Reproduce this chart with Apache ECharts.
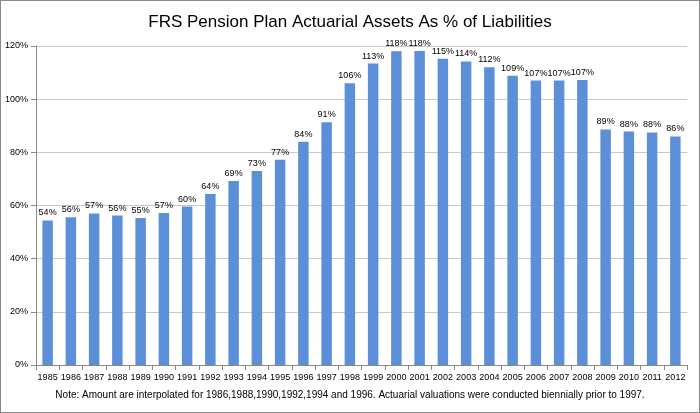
<!DOCTYPE html>
<html>
  <head>
    <meta charset="utf-8">
    <title>FRS Pension</title>
    <style>
        *{ padding: 0; margin: 0; }
        body{ width: 700px; height: 413px; background: #fff; }
        #chart{ width: 698px; height: 411px; border: 1px solid #888; }
    </style>
  </head>
  <body>
    <div id="chart"></div>
    <script src="https://cdn.jsdelivr.net/npm/echarts@6/dist/echarts.min.js"></script>
    <script>
        // data
        var years = ['1985','1986','1987','1988','1989','1990','1991','1992','1993','1994','1995','1996','1997','1998',
                     '1999','2000','2001','2002','2003','2004','2005','2006','2007','2008','2009','2010','2011','2012'];
        var ratio = [54.4, 55.6, 57, 56.2, 55.3, 57.2, 59.6, 64.3, 69.2, 73, 77.2, 84, 91.3, 106,
                     113.4, 118, 118.1, 115.2, 114.2, 112, 108.8, 107, 107, 107.2, 88.6, 87.8, 87.5, 86];
        var yTicks = [0, 20, 40, 60, 80, 100, 120];

        var chart = echarts.init(document.getElementById('chart'));
        chart.setOption({
            animation: false,
            title: {
                text: 'FRS Pension Plan Actuarial Assets As % of Liabilities',
                left: 'center', top: 8,
                textStyle: { fontFamily: 'Liberation Sans', fontSize: 17, fontWeight: 'normal', color: '#000' }
            },
            grid: { left: 35, right: 12, top: 45, bottom: 47 },
            xAxis: {
                type: 'category',
                data: years,
                axisLine: { lineStyle: { color: '#888' } },
                axisTick: { show: true, lineStyle: { color: '#888' } },
                axisLabel: { color: '#000', fontSize: 9, fontFamily: 'Liberation Sans', interval: 0 }
            },
            yAxis: {
                type: 'value',
                min: yTicks[0], max: yTicks[yTicks.length - 1], interval: 20,
                axisLine: { show: true, lineStyle: { color: '#888' } },
                axisTick: { show: true, lineStyle: { color: '#888' } },
                splitLine: { lineStyle: { color: '#c8c8c8' } },
                axisLabel: { color: '#000', fontSize: 9, fontFamily: 'Liberation Sans', formatter: '{value}%' }
            },
            series: [{
                type: 'bar',
                data: ratio,
                barWidth: '45%',
                itemStyle: { color: '#5b8fd8' },
                label: {
                    show: true, position: 'top', distance: 3,
                    color: '#000', fontSize: 9, fontFamily: 'Liberation Sans',
                    formatter: function (p) { return Math.round(p.value) + '%'; }
                }
            }],
            graphic: [{
                type: 'text', left: 'center', bottom: 12,
                style: {
                    text: 'Note: Amount are interpolated for 1986,1988,1990,1992,1994 and 1996. Actuarial valuations were conducted biennially prior to 1997.',
                    fontSize: 10, fontFamily: 'Liberation Sans', fill: '#000'
                }
            }]
        });
    </script>
  </body>
</html>
